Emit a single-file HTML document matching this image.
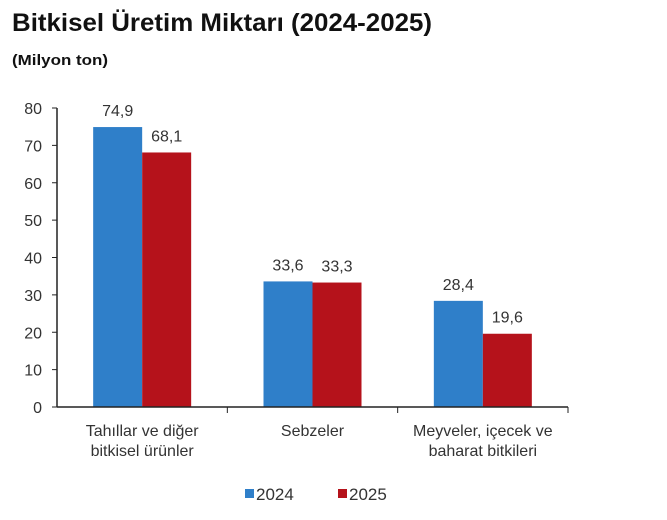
<!DOCTYPE html>
<html><head><meta charset="utf-8"><style>
body{margin:0;background:#fff;font-family:"Liberation Sans",sans-serif}
</style></head><body>
<svg width="667" height="515" xmlns="http://www.w3.org/2000/svg" font-family="Liberation Sans, sans-serif">
<text x="12" y="31" font-size="25" font-weight="bold" fill="#111" textLength="420" lengthAdjust="spacingAndGlyphs">Bitkisel Üretim Miktarı (2024-2025)</text>
<text x="12" y="65" font-size="15" font-weight="bold" fill="#111" textLength="96" lengthAdjust="spacingAndGlyphs">(Milyon ton)</text>
<g id="plot"></g>
</svg>
<script>
const categories=[["Tahıllar ve diğer","bitkisel ürünler"],["Sebzeler"],["Meyveler, içecek ve","baharat  bitkileri"]];
const values2024=[74.9,33.6,28.4];
const values2025=[68.1,33.3,19.6];
const labels2024=["74,9","33,6","28,4"];
const labels2025=["68,1","33,3","19,6"];
const yTicks=[0,10,20,30,40,50,60,70,80];
const NS="http://www.w3.org/2000/svg";
const g=document.getElementById('plot');
const x0=57,x1=568,yTop=108,yBot=407,yMax=80;
const y=v=>yBot-(v/yMax)*(yBot-yTop);
const gw=(x1-x0)/categories.length,bw=49;
function mk(t,a,txt){const e=document.createElementNS(NS,t);for(const k in a)e.setAttribute(k,a[k]);if(txt!==undefined)e.textContent=txt;g.appendChild(e);return e;}
yTicks.forEach(v=>{
 const t=mk('text',{x:x0-15,y:y(v)+6,'font-size':16,'text-anchor':'end',fill:'#333'},String(v));
 
 
 const l=mk('line',{x1:x0-5,x2:x0,y1:y(v),y2:y(v),stroke:'#222'});
 
 
});
categories.forEach((c,i)=>{
 const cx=x0+gw*(i+0.5);
 const b1=mk('rect',{x:cx-bw,y:y(values2024[i]),width:bw,height:yBot-y(values2024[i]),fill:'#2f7fc9'});
 
 
 const b2=mk('rect',{x:cx,y:y(values2025[i]),width:bw,height:yBot-y(values2025[i]),fill:'#b5121b'});
 
 
 const t1=mk('text',{x:cx-bw/2,y:y(values2024[i])-11,'font-size':16,'text-anchor':'middle',fill:'#333'},labels2024[i]);
 
 
 const t2=mk('text',{x:cx+bw/2,y:y(values2025[i])-11,'font-size':16,'text-anchor':'middle',fill:'#333'},labels2025[i]);
 
 
 c.forEach((line,j)=>{
  const t=mk('text',{x:cx,y:436+j*20,'font-size':16,'text-anchor':'middle',fill:'#333'},line);
  
  
 });
 const tk=mk('line',{x1:x0+gw*(i+1),x2:x0+gw*(i+1),y1:yBot,y2:yBot+6,stroke:'#222'});
 
 
});
const ya=mk('line',{x1:x0,x2:x0,y1:yTop,y2:yBot,stroke:'#222','stroke-width':1.5});


const xa=mk('line',{x1:x0,x2:x1,y1:yBot,y2:yBot,stroke:'#222','stroke-width':1.5});


const l1=mk('rect',{x:245,y:489,width:9,height:9,fill:'#2f7fc9'});


const lt1=mk('text',{x:256,y:500,'font-size':17,fill:'#333'},'2024');


const l2=mk('rect',{x:338,y:489,width:9,height:9,fill:'#b5121b'});


const lt2=mk('text',{x:349,y:500,'font-size':17,fill:'#333'},'2025');


</script>
</body></html>
